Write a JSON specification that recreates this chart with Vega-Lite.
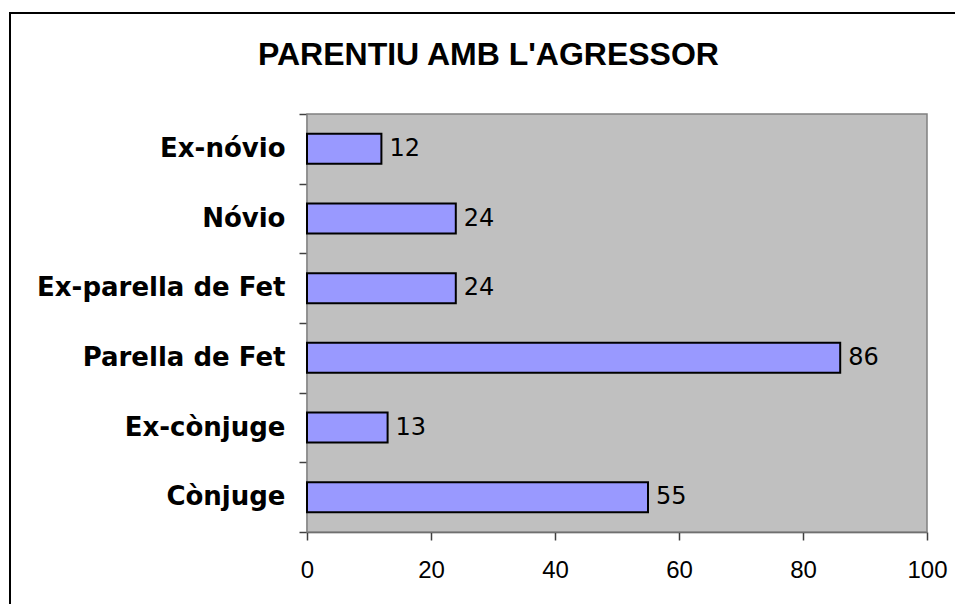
{
  "$schema": "https://vega.github.io/schema/vega-lite/v6.json",
  "width": 960,
  "height": 600,
  "autosize": {"type": "none"},
  "padding": {"left": 10, "top": 13, "right": 0, "bottom": 0},
  "background": "white",
  "config": {
    "view": {"stroke": "black", "strokeWidth": 2},
    "axis": {"grid": false}
  },
  "title": {
    "text": "PARENTIU AMB L'AGRESSOR",
    "font": "Liberation Sans",
    "fontSize": 32,
    "fontWeight": "bold",
    "color": "black",
    "anchor": "start",
    "frame": "group",
    "orient": "top",
    "baseline": "alphabetic",
    "offset": 0,
    "dy": 84,
    "dx": 248
  },
  "layer": [
    {
      "data": {"values": [{"lo": 0, "hi": 100, "b0": 0, "b1": 6}]},
      "mark": {"type": "rect", "fill": "#C0C0C0", "stroke": "#808080", "strokeWidth": 1.5},
      "encoding": {
        "x": {
          "field": "lo",
          "type": "quantitative",
          "scale": {"domain": [0, 100], "range": [297, 917], "nice": false, "zero": false},
          "axis": {
            "orient": "bottom",
            "offset": -81,
            "values": [0, 20, 40, 60, 80, 100],
            "tickSize": 8,
            "tickColor": "#404040",
            "tickWidth": 1.5,
            "domainColor": "#404040",
            "domainWidth": 1.5,
            "labelFont": "Liberation Sans",
            "labelFontSize": 24,
            "labelColor": "black",
            "labelPadding": 18,
            "labelFlush": false,
            "labelOverlap": false,
            "title": null,
            "grid": false
          }
        },
        "x2": {"field": "hi"},
        "y": {
          "field": "b0",
          "type": "quantitative",
          "scale": {"domain": [0, 6], "range": [519, 101], "nice": false, "zero": false},
          "axis": {
            "orient": "left",
            "offset": -297,
            "values": [0, 1, 2, 3, 4, 5, 6],
            "labels": false,
            "ticks": true,
            "tickSize": 8,
            "tickColor": "#404040",
            "tickWidth": 1.5,
            "domain": true,
            "domainColor": "#404040",
            "domainWidth": 1.5,
            "title": null,
            "grid": false
          }
        },
        "y2": {"field": "b1"}
      }
    },
    {
      "data": {
        "values": [
          {"categoria": "Ex-nóvio", "valor": 12},
          {"categoria": "Nóvio", "valor": 24},
          {"categoria": "Ex-parella de Fet", "valor": 24},
          {"categoria": "Parella de Fet", "valor": 86},
          {"categoria": "Ex-cònjuge", "valor": 13},
          {"categoria": "Cònjuge", "valor": 55}
        ]
      },
      "encoding": {
        "y": {
          "field": "categoria",
          "type": "nominal",
          "sort": null,
          "scale": {"range": [101, 519], "paddingInner": 0.57, "paddingOuter": 0.285},
          "axis": {
            "orient": "left",
            "offset": -297,
            "ticks": false,
            "domain": false,
            "labelFont": "DejaVu Sans",
            "labelFontWeight": "bold",
            "labelFontSize": 26,
            "labelColor": "black",
            "labelPadding": 22,
            "labelLimit": 400,
            "title": null,
            "grid": false
          }
        },
        "x": {"field": "valor", "type": "quantitative"}
      },
      "layer": [
        {"mark": {"type": "bar", "fill": "#9999FF", "stroke": "black", "strokeWidth": 2}},
        {
          "mark": {"type": "text", "align": "left", "baseline": "middle", "dx": 8, "font": "DejaVu Sans", "fontSize": 24, "color": "black"},
          "encoding": {"text": {"field": "valor", "type": "quantitative"}}
        }
      ]
    }
  ],
  "resolve": {"scale": {"y": "independent"}, "axis": {"y": "independent"}}
}
